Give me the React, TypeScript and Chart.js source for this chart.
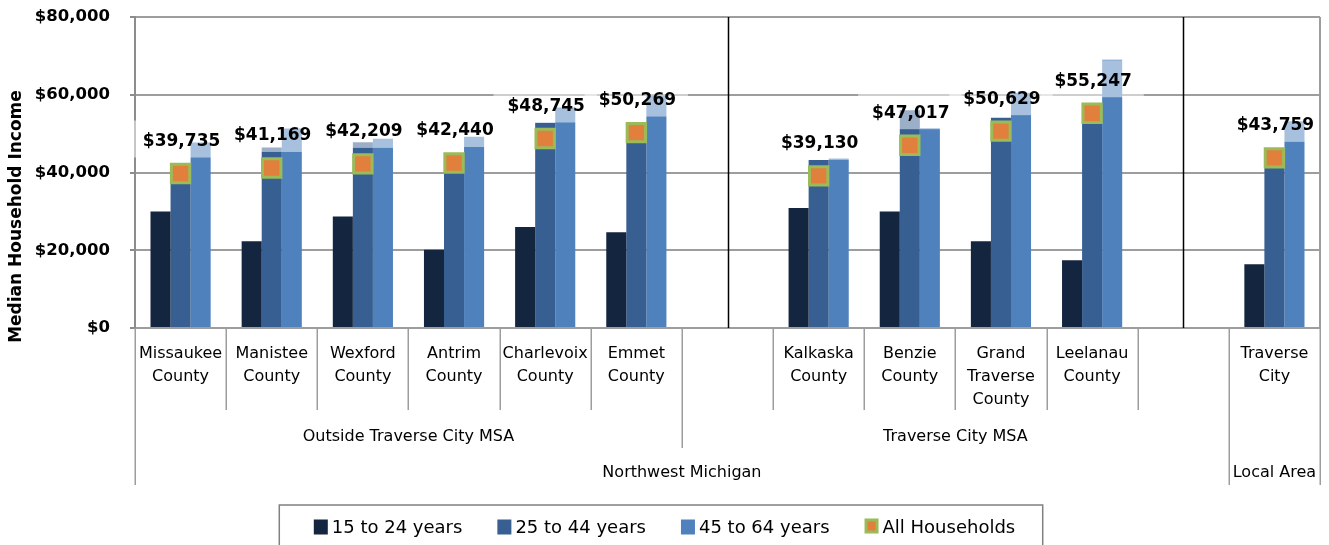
import React, { useEffect, useRef } from 'react';
import { Chart, registerables } from 'chart.js';

Chart.register(...registerables);

const FONT = "'DejaVu Sans', sans-serif";

// ---------- data ----------
const categories: string[][] = [
  ['Missaukee', 'County'],
  ['Manistee', 'County'],
  ['Wexford', 'County'],
  ['Antrim', 'County'],
  ['Charlevoix', 'County'],
  ['Emmet', 'County'],
  [''],
  ['Kalkaska', 'County'],
  ['Benzie', 'County'],
  ['Grand', 'Traverse', 'County'],
  ['Leelanau', 'County'],
  [''],
  ['Traverse', 'City'],
];

const areaGroups = ['Outside Traverse City MSA', 'Traverse City MSA', ''];
const areaSpans = [6, 6, 1];
const regionGroups = ['Northwest Michigan', 'Local Area'];
const regionSpans = [12, 1];

const seriesLabels = ['15 to 24 years', '25 to 44 years', '45 to 64 years', 'All Households'];

const age15to24 = [30000, 22300, 28700, 20100, 26000, 24600, null, 30900, 30000, 22300, 17400, null, 16400];
const age25to44 = [41800, 46400, 47800, 44800, 52800, 52300, null, 43200, 56000, 54100, 57800, null, 45800];
const age45to64 = [47700, 51300, 48700, 49200, 56700, 59800, null, 43600, 51400, 60500, 69000, null, 53200];
const allHouseholds = [39735, 41169, 42209, 42440, 48745, 50269, null, 39130, 47017, 50629, 55247, null, 43759];

const yMin = 0;
const yMax = 80000;
const yStep = 20000;

// ---------- styles ----------
const COLORS = ['#14253f', '#375f92', '#4f81bd'];
const MARKER_FILL = '#e0803c';
const MARKER_BORDER = '#9bbb59';
const GRID = '#9d9d9d';
const AXIS = '#8c8c8c';

const money = (v: number) => '$' + v.toLocaleString('en-US');

const dividerPlugin = {
  id: 'dividers',
  beforeDatasetsDraw(chart: any) {
    const { ctx, chartArea } = chart;
    const xs = chart.scales.x;
    ctx.save();
    ctx.strokeStyle = '#000';
    ctx.lineWidth = 1.5;
    categories.forEach((c, i) => {
      if (c.join('') === '') {
        const x = Math.round(xs.getPixelForValue(i)) + 0.5;
        ctx.beginPath();
        ctx.moveTo(x, chartArea.top);
        ctx.lineTo(x, chartArea.bottom);
        ctx.stroke();
      }
    });
    ctx.restore();
  },
};

const labelPlugin = {
  id: 'pointLabels',
  afterDatasetsDraw(chart: any) {
    const { ctx } = chart;
    const meta = chart.getDatasetMeta(3);
    ctx.save();
    ctx.font = `bold 17px ${FONT}`;
    ctx.textAlign = 'center';
    ctx.textBaseline = 'middle';
    meta.data.forEach((pt: any, i: number) => {
      const v = allHouseholds[i];
      if (v == null) return;
      const text = money(v);
      const tw = ctx.measureText(text).width;
      ctx.fillStyle = 'rgba(255,255,255,0.5)';
      ctx.fillRect(pt.x - tw / 2 - 13, pt.y - 53, tw + 26, 37);
      ctx.fillStyle = '#000';
      ctx.fillText(text, pt.x + 1, pt.y - 32);
    });
    ctx.restore();
  },
};

const axisPlugin = {
  id: 'multiAxis',
  afterDraw(chart: any) {
    const { ctx, chartArea } = chart;
    const xs = chart.scales.x;
    const n = categories.length;
    const w = (chartArea.right - chartArea.left) / n;
    const edge = (i: number) => chartArea.left + i * w;
    const base = chartArea.bottom;
    const lvl1 = base + 82;
    const lvl2 = base + 120;
    const lvl3 = base + 157;

    const cum = (spans: number[]) => {
      const out: number[] = [];
      let s = 0;
      spans.forEach((v) => { s += v; out.push(s); });
      return out;
    };
    const areaEdges = cum(areaSpans);
    const regionEdges = cum(regionSpans);

    ctx.save();
    // right border of plot
    ctx.strokeStyle = GRID;
    ctx.lineWidth = 2;
    ctx.beginPath();
    ctx.moveTo(chartArea.right, chartArea.top);
    ctx.lineTo(chartArea.right, base);
    ctx.stroke();

    // hierarchical tick lines
    ctx.strokeStyle = GRID;
    ctx.lineWidth = 1.5;
    for (let i = 0; i <= n; i++) {
      let depth = lvl1;
      if (i === 0 || regionEdges.includes(i)) depth = lvl3;
      else if (areaEdges.includes(i)) depth = lvl2;
      const x = Math.round(edge(i)) + 0.25;
      ctx.beginPath();
      ctx.moveTo(x, base);
      ctx.lineTo(x, depth);
      ctx.stroke();
    }

    // category labels
    ctx.fillStyle = '#000';
    ctx.font = `16px ${FONT}`;
    ctx.textAlign = 'center';
    ctx.textBaseline = 'middle';
    categories.forEach((lines, i) => {
      const cx = xs.getPixelForValue(i);
      lines.forEach((t, k) => ctx.fillText(t, cx, base + 26 + k * 23));
    });

    // group labels
    let start = 0;
    areaGroups.forEach((g, j) => {
      const end = start + areaSpans[j];
      ctx.fillText(g, (edge(start) + edge(end)) / 2, base + 109);
      start = end;
    });
    start = 0;
    regionGroups.forEach((g, j) => {
      const end = start + regionSpans[j];
      ctx.fillText(g, (edge(start) + edge(end)) / 2, base + 145);
      start = end;
    });

    // y-axis title
    ctx.save();
    ctx.font = `bold 17px ${FONT}`;
    ctx.translate(17, (chartArea.top + chartArea.bottom) / 2 + 44);
    ctx.rotate(-Math.PI / 2);
    ctx.fillText('Median Household Income', 0, 0);
    ctx.restore();

    // legend
    ctx.font = `18px ${FONT}`;
    ctx.textAlign = 'left';
    const boxW = 14;
    const gapBT = 4;
    const gapItems = 35;
    const widths = seriesLabels.map((t) => boxW + gapBT + ctx.measureText(t).width);
    const total = widths.reduce((a, b) => a + b, 0) + gapItems * (widths.length - 1);
    let x = chart.width / 2 - total / 2;
    const cy = 527;
    ctx.strokeStyle = '#808080';
    ctx.lineWidth = 1.5;
    ctx.strokeRect(x - 34.5, 505, total + 34.5 + 27.5, 60);
    seriesLabels.forEach((t, i) => {
      if (i < 3) {
        ctx.fillStyle = COLORS[i];
        ctx.fillRect(x, cy - 7.5, boxW, 15);
      } else {
        ctx.fillStyle = MARKER_BORDER;
        ctx.fillRect(x, cy - 8.5, boxW, 15);
        ctx.fillStyle = MARKER_FILL;
        ctx.fillRect(x + 3, cy - 5.5, boxW - 6, 9);
      }
      ctx.fillStyle = '#000';
      ctx.fillText(t, x + boxW + gapBT, cy + 1);
      x += widths[i] + gapItems;
    });
    ctx.restore();
  },
};

export default function App() {
  const ref = useRef<HTMLCanvasElement>(null);

  useEffect(() => {
    if (!ref.current) return;
    Chart.defaults.color = '#000';
    Chart.defaults.font.family = FONT;
    const barDs = (label: string, data: (number | null)[], color: string) => ({
      type: 'bar' as const,
      label,
      data,
      backgroundColor: color,
      borderWidth: 0,
      categoryPercentage: 0.66,
      barPercentage: 1.0,
      order: 1,
    });
    const chart = new Chart(ref.current, {
      type: 'bar',
      data: {
        labels: categories.map((c) => c.join(' ')),
        datasets: [
          barDs(seriesLabels[0], age15to24, COLORS[0]),
          barDs(seriesLabels[1], age25to44, COLORS[1]),
          barDs(seriesLabels[2], age45to64, COLORS[2]),
          {
            type: 'line' as const,
            label: seriesLabels[3],
            data: allHouseholds,
            showLine: false,
            pointStyle: 'rect',
            pointRadius: 13,
            pointHoverRadius: 13,
            pointBackgroundColor: MARKER_FILL,
            pointBorderColor: MARKER_BORDER,
            pointBorderWidth: 3,
            order: 0,
          } as any,
        ],
      },
      options: {
        responsive: false,
        animation: false,
        devicePixelRatio: 1,
        layout: { autoPadding: false, padding: { top: 17, right: 9, bottom: 60, left: 0 } },
        plugins: {
          legend: { display: false },
          tooltip: { enabled: false },
        },
        scales: {
          x: {
            type: 'category',
            offset: true,
            grid: { display: false },
            border: { display: false },
            ticks: { display: false },
            afterFit: (s: any) => { s.height = 157; },
          },
          y: {
            min: yMin,
            max: yMax,
            ticks: {
              stepSize: yStep,
              padding: 20,
              font: { family: FONT, size: 16.5, weight: 'bold' },
              color: '#000',
              callback: (v: any) => money(Number(v)),
            },
            grid: { color: GRID, lineWidth: 2, tickLength: 5, tickColor: AXIS },
            border: { display: true, color: AXIS, width: 2 },
            afterFit: (s: any) => {
              s.width = 135;
              s.paddingTop = 10;
              s.paddingBottom = 10;
            },
          },
        },
      },
      plugins: [dividerPlugin, labelPlugin, axisPlugin],
    });
    return () => chart.destroy();
  }, []);

  return (
    <div style={{ position: 'fixed', left: 0, top: 0, width: 1329, height: 545, background: '#fff' }}>
      <canvas ref={ref} width={1329} height={545} style={{ width: 1329, height: 545 }} />
    </div>
  );
}
